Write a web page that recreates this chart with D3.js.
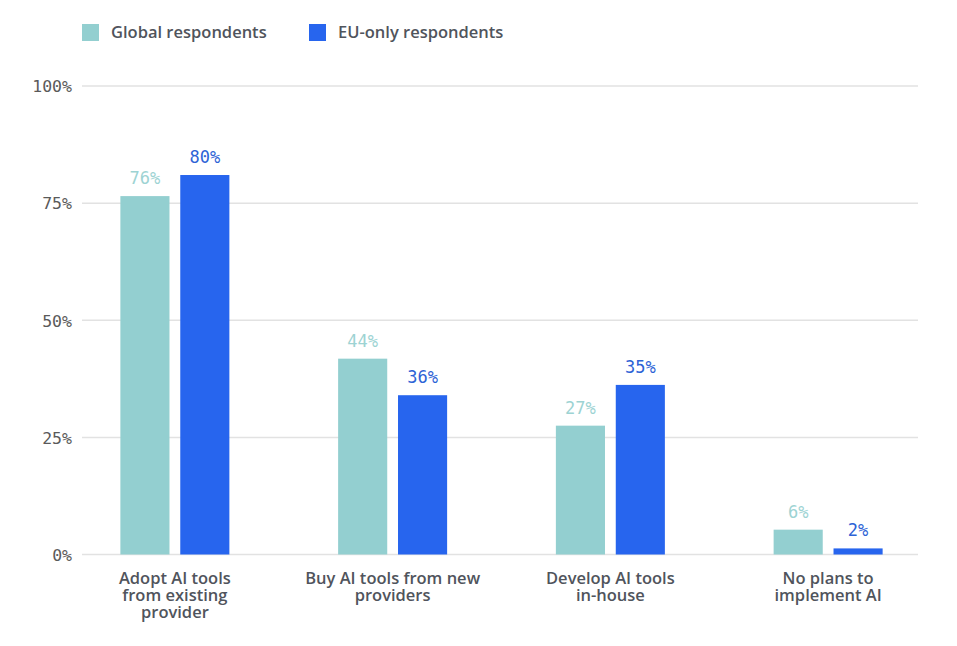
<!DOCTYPE html>
<html><head><meta charset="utf-8">
<script src="https://cdn.jsdelivr.net/npm/d3@7"></script>
<style>body{margin:0;background:#fff}svg{display:block}</style>
</head><body>
<script>
const categories = [["Adopt AI tools","from existing","provider"],["Buy AI tools from new","providers"],["Develop AI tools","in-house"],["No plans to","implement AI"]];
const seriesNames = ["Global respondents","EU-only respondents"];
const globalValues = [76.5, 41.8, 27.5, 5.3];
const euValues = [81, 34, 36.2, 1.3];
const globalLabels = ["76%","44%","27%","6%"];
const euLabels = ["80%","36%","35%","2%"];
const yTicks = [0, 25, 50, 75, 100];
const colors = ["#93cfd0","#2765ee"];
const labelColors = ["#9dd3d3","#2d63d6"];

const W=957,H=646;
const svg=d3.select("body").append("svg").attr("width",W).attr("height",H);
const y=d3.scaleLinear().domain([0,100]).range([554.5,86]);
const x0=d3.scaleBand().domain(d3.range(categories.length)).range([66,937]).padding(0);
const x1=d3.scaleBand().domain([0,1]).range([-54.5,54.5]).paddingInner(0.18);
const mono="'DejaVu Sans Mono', monospace";
const sans="'Open Sans', sans-serif";

// grid
svg.append("g").selectAll("line").data(yTicks).join("line")
  .attr("x1",82).attr("x2",918).attr("y1",d=>y(d)).attr("y2",d=>y(d))
  .attr("stroke","#e2e2e2").attr("stroke-width",1.5);
const yAxis=d3.axisLeft(y).tickValues(yTicks).tickFormat(d=>d+"%").tickSize(0).tickPadding(0);
const ga=svg.append("g").attr("transform","translate(72,0)").call(yAxis);
ga.select(".domain").remove();
ga.selectAll("text").attr("font-family",mono).attr("font-size",16.5).attr("fill","#5a5a5a").attr("dy","0.35em");

const series=[globalValues,euValues];
const labels=[globalLabels,euLabels];
series.forEach((vals,s)=>{
  const g=svg.append("g");
  g.selectAll("rect").data(vals).join("rect")
    .attr("x",(d,i)=>x0(i)+x0.bandwidth()/2+x1(s)).attr("width",x1.bandwidth())
    .attr("y",d=>y(d)).attr("height",d=>y(0)-y(d)).attr("fill",colors[s]);
  g.selectAll("text").data(vals).join("text")
    .attr("x",(d,i)=>x0(i)+x0.bandwidth()/2+x1(s)+x1.bandwidth()/2)
    .attr("y",d=>y(d)-12).attr("text-anchor","middle")
    .attr("font-family",mono).attr("font-size",17).attr("fill",labelColors[s])
    .text((d,i)=>labels[s][i]);
});

// category labels
categories.forEach((lines,i)=>{
  const t=svg.append("text").attr("text-anchor","middle")
    .attr("font-family",sans).attr("font-weight",600).attr("font-size",16.5).attr("fill","#50545c");
  lines.forEach((l,j)=>t.append("tspan").attr("x",x0(i)+x0.bandwidth()/2).attr("y",584+j*17).text(l));
});

// legend
const lx=[82,309];
seriesNames.forEach((n,s)=>{
  svg.append("rect").attr("x",lx[s]).attr("y",24).attr("width",17).attr("height",17).attr("fill",colors[s]);
  svg.append("text").attr("x",lx[s]+29).attr("y",38).attr("font-family",sans).attr("font-weight",600)
    .attr("font-size",16.5).attr("fill","#50545c").text(n);
});
</script>
</body></html>
